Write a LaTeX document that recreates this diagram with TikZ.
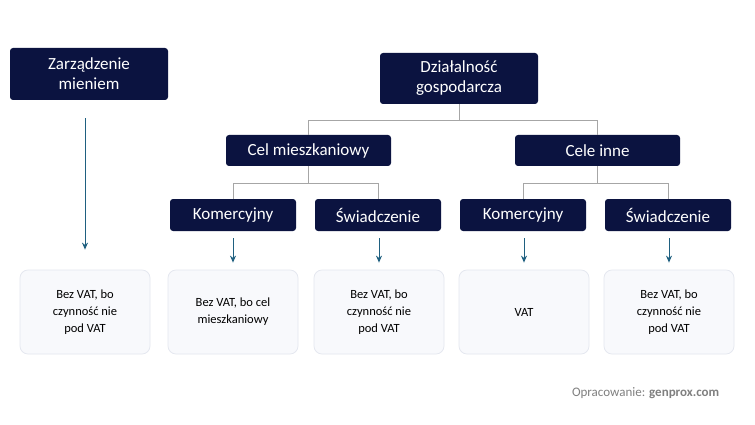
\documentclass[tikz,border=0pt]{standalone}
\usepackage{fontspec}
\setmainfont{Carlito}
\usetikzlibrary{arrows.meta}
\definecolor{navy}{HTML}{0B1340}
\definecolor{teal}{HTML}{1F6080}
\definecolor{pale}{HTML}{F8F9FC}
\definecolor{paleedge}{HTML}{E4E7EF}
\tikzset{every picture/.style={line width=0.75pt}}
\tikzset{
  darkbox/.style={fill=navy,rounded corners=3pt,text=white,align=center,font=\fontsize{17}{20}\selectfont,inner sep=0pt},
  lightbox/.style={fill=pale,draw=paleedge,rounded corners=8pt,align=center,font=\fontsize{12.5}{17}\selectfont,inner sep=0pt},
  branch/.style={draw=gray!70,line width=0.8pt},
  down/.style={draw=teal,line width=1pt,-{Stealth[length=7pt,width=6pt]}}
}
\begin{document}
\begin{tikzpicture}[x=1pt,y=-1pt]
\useasboundingbox[fill=white] (0,0) rectangle (755,425);

% dark boxes
\node [darkbox,minimum width=158,minimum height=52] (zarz) at (89,74) {Zarządzenie\\mieniem};
\node [darkbox,minimum width=158,minimum height=51] (dzial) at (459,78.5) {Działalność\\gospodarcza};
\node [darkbox,minimum width=165,minimum height=31] (celm) at (308.5,150.5) {Cel mieszkaniowy};
\node [darkbox,minimum width=165,minimum height=31] (celi) at (597.5,150.5) {Cele inne};
\node [darkbox,minimum width=126,minimum height=32] (kom1) at (233,215) {Komercyjny};
\node [darkbox,minimum width=126,minimum height=32] (sw1) at (378,215) {Świadczenie};
\node [darkbox,minimum width=126,minimum height=32] (kom2) at (523,215) {Komercyjny};
\node [darkbox,minimum width=126,minimum height=32] (sw2) at (668,215) {Świadczenie};

% light boxes
\node [lightbox,minimum width=130,minimum height=84] (r0) at (85,312) {Bez VAT, bo\\czynność nie\\pod VAT};
\node [lightbox,minimum width=130,minimum height=84] (r1) at (233,312) {Bez VAT, bo cel\\mieszkaniowy};
\node [lightbox,minimum width=130,minimum height=84] (r2) at (379,312) {Bez VAT, bo\\czynność nie\\pod VAT};
\node [lightbox,minimum width=130,minimum height=84] (r3) at (524,312) {VAT};
\node [lightbox,minimum width=130,minimum height=84] (r4) at (669,312) {Bez VAT, bo\\czynność nie\\pod VAT};

% tree lines
\draw [branch] (dzial.south) -- ++(0,16) -| (celm.north);
\draw [branch] (dzial.south) ++(0,16) -| (celi.north);
\draw [branch] (celm.south) -- ++(0,17) -| (kom1.north);
\draw [branch] (celm.south) ++(0,17) -| (sw1.north);
\draw [branch] (celi.south) -- ++(0,17) -| (kom2.north);
\draw [branch] (celi.south) ++(0,17) -| (sw2.north);

% arrows
\draw [down] ([yshift=-18]zarz.south -| r0.north) -- ([yshift=20]r0.north);
\draw [down] ([yshift=-7]kom1.south) -- ([yshift=7]r1.north);
\draw [down] ([yshift=-7]sw1.south -| r2.north) -- ([yshift=7]r2.north);
\draw [down] ([yshift=-7]kom2.south -| r3.north) -- ([yshift=7]r3.north);
\draw [down] ([yshift=-7]sw2.south -| r4.north) -- ([yshift=7]r4.north);

% source
\node [anchor=east,text=gray,font=\fontsize{13}{15}\selectfont] (src) at (723,393) {Opracowanie: \textbf{genprox.com}};
\end{tikzpicture}
\end{document}
